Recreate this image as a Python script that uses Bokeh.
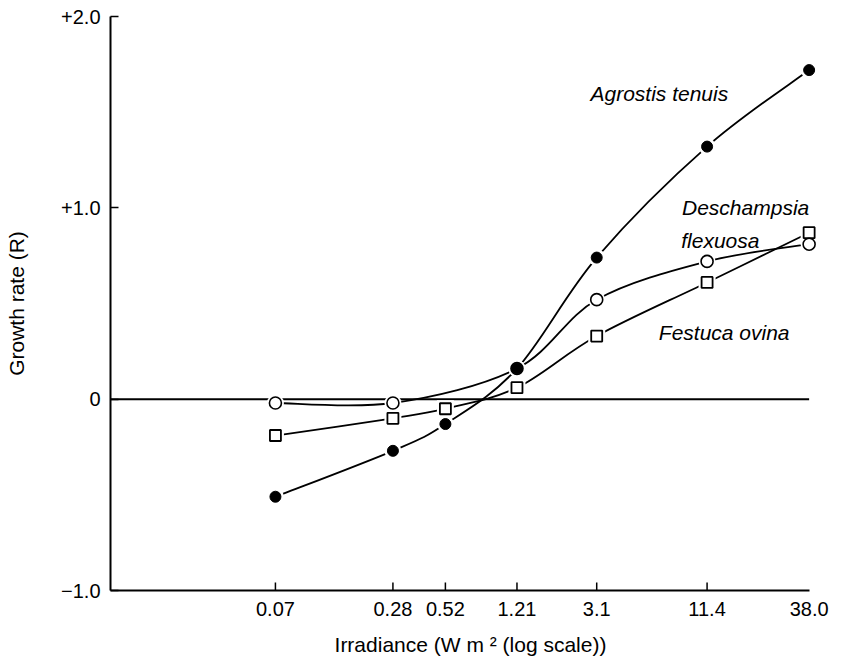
import numpy as np
from bokeh.plotting import figure
from bokeh.models import Range1d, FixedTicker, Label
from bokeh.embed import file_html
from bokeh.resources import INLINE

# ---------------- data ----------------
irradiance = [0.07, 0.28, 0.52, 1.21, 3.1, 11.4, 38.0]
agrostis = [-0.51, -0.27, -0.13, 0.16, 0.74, 1.32, 1.72]
festuca = [-0.19, -0.10, -0.05, 0.06, 0.33, 0.61, 0.87]
deschampsia_irradiance = [0.07, 0.28, 1.21, 3.1, 11.4, 38.0]
deschampsia = [-0.02, -0.02, 0.16, 0.52, 0.72, 0.81]

x_tick_values = [0.07, 0.28, 0.52, 1.21, 3.1, 11.4]
x_tick_labels = ["0.07", "0.28", "0.52", "1.21", "3.1", "11.4"]
x_last_value = 38.0
x_last_label = "38.0"
y_tick_values = [-1, 0, 1, 2]
y_tick_labels = ["\u22121.0", "0", "+1.0", "+2.0"]

x_axis_bounds = (0.01, 38.0)

FONT = "Liberation Sans"

p = figure(width=847, height=663, x_axis_type="log",
           x_range=Range1d(0.01, 48.9), y_range=Range1d(-1.0, 2.0),
           output_backend="svg", toolbar_location=None,
           min_border_left=110, min_border_right=17,
           min_border_top=16, min_border_bottom=73)
p.outline_line_color = None
p.xgrid.visible = False
p.ygrid.visible = False
p.background_fill_color = "white"

# x axis (tick marks drawn below as short segments, none at the last label)
xa = p.xaxis[0]
xa.ticker = FixedTicker(ticks=x_tick_values + [x_last_value])
overrides = {v: l for v, l in zip(x_tick_values, x_tick_labels)}
overrides[x_last_value] = x_last_label
xa.major_label_overrides = overrides
xa.bounds = x_axis_bounds
xa.axis_line_width = 2
xa.axis_line_color = "black"
xa.major_tick_in = 0
xa.major_tick_out = 0
xa.minor_tick_in = 0
xa.minor_tick_out = 0
xa.major_label_text_font = FONT
xa.major_label_text_font_size = "20px"
xa.major_label_text_color = "black"
xa.major_label_standoff = 11
xa.axis_label = "Irradiance (W m \u00b2 (log scale))"
xa.axis_label_text_font = FONT
xa.axis_label_text_font_size = "21px"
xa.axis_label_text_font_style = "normal"
xa.axis_label_text_color = "black"
xa.axis_label_standoff = 14

# y axis
ya = p.yaxis[0]
ya.ticker = FixedTicker(ticks=y_tick_values)
ya.major_label_overrides = {v: l for v, l in zip(y_tick_values, y_tick_labels)}
ya.axis_line_width = 2
ya.axis_line_color = "black"
ya.major_tick_in = 8
ya.major_tick_out = 0
ya.major_tick_line_width = 1.5
ya.minor_tick_in = 0
ya.minor_tick_out = 0
ya.major_label_text_font = FONT
ya.major_label_text_font_size = "20px"
ya.major_label_text_color = "black"
ya.major_label_standoff = 10
ya.axis_label = "Growth rate (R)"
ya.axis_label_text_font = FONT
ya.axis_label_text_font_size = "21px"
ya.axis_label_text_font_style = "normal"
ya.axis_label_text_color = "black"
ya.axis_label_standoff = 30

# inward tick marks on the x axis
tick_len = 8 / 191.0
p.segment(x0=x_tick_values, y0=[-1.0] * len(x_tick_values),
          x1=x_tick_values, y1=[-1.0 + tick_len] * len(x_tick_values),
          line_color="black", line_width=1.5)

# zero line
p.line(x=list(x_axis_bounds), y=[0, 0], line_color="black", line_width=2)


def bezier_data(xs, ys):
    lx = np.log10(np.asarray(xs, dtype=float))
    yy = np.asarray(ys, dtype=float)
    pts = np.column_stack([lx, yy])
    ext = np.vstack([pts[0], pts, pts[-1]])
    d = dict(x0=[], y0=[], x1=[], y1=[], cx0=[], cy0=[], cx1=[], cy1=[])
    for i in range(len(pts) - 1):
        p0, p1, p2, p3 = ext[i], ext[i + 1], ext[i + 2], ext[i + 3]
        c1 = p1 + (p2 - p0) / 6.0
        c2 = p2 - (p3 - p1) / 6.0
        d["x0"].append(10 ** p1[0]); d["y0"].append(p1[1])
        d["x1"].append(10 ** p2[0]); d["y1"].append(p2[1])
        d["cx0"].append(10 ** c1[0]); d["cy0"].append(c1[1])
        d["cx1"].append(10 ** c2[0]); d["cy1"].append(c2[1])
    return d


for xs, ys in [(irradiance, agrostis), (irradiance, festuca),
               (deschampsia_irradiance, deschampsia)]:
    b = bezier_data(xs, ys)
    p.bezier(x0=b["x0"], y0=b["y0"], x1=b["x1"], y1=b["y1"],
             cx0=b["cx0"], cy0=b["cy0"], cx1=b["cx1"], cy1=b["cy1"],
             line_color="black", line_width=1.8)

# white halos around markers (gaps in lines)
for xs, ys, mk in [(irradiance, agrostis, "circle"), (irradiance, festuca, "square"),
                   (deschampsia_irradiance, deschampsia, "circle")]:
    p.scatter(x=xs, y=ys, marker=mk, size=17, fill_color="white", line_color=None)

# markers
p.scatter(x=irradiance, y=festuca, marker="square", size=11,
          fill_color="white", line_color="black", line_width=1.8)
p.scatter(x=deschampsia_irradiance, y=deschampsia, marker="circle", size=12,
          fill_color="white", line_color="black", line_width=1.6)
p.scatter(x=irradiance, y=agrostis, marker="circle", size=11,
          fill_color="black", line_color="black", line_width=1)

# species labels
for tx, ty, txt in [(2.88, 1.595, "Agrostis tenuis"),
                    (8.48, 1.0, "Deschampsia"),
                    (8.40, 0.828, "flexuosa"),
                    (6.45, 0.348, "Festuca ovina")]:
    p.add_layout(Label(x=tx, y=ty, text=txt, text_align="left",
                       text_baseline="alphabetic", text_font=FONT,
                       text_font_size="21px", text_font_style="italic",
                       text_color="black"))

open("out.html", "w").write(file_html(p, INLINE))
